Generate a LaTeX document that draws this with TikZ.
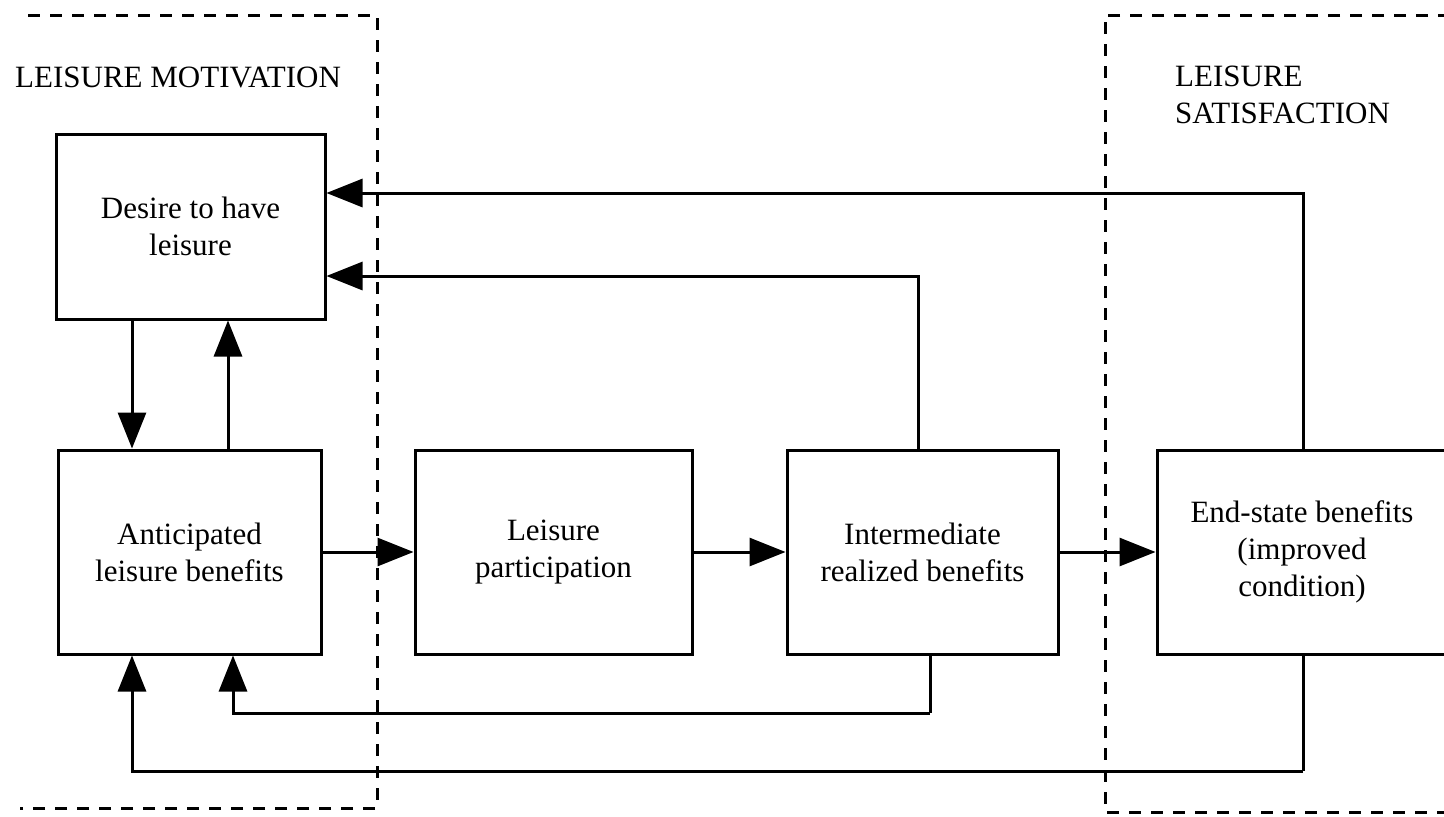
\documentclass[tikz,border=0pt]{standalone}
\usepackage{fontspec}
\setmainfont{Liberation Serif}
\usetikzlibrary{arrows.meta}
\begin{document}
\begin{tikzpicture}[x=1pt,y=-1pt,
  box/.style={draw,line width=3pt,align=center,inner sep=0pt,
    font=\fontsize{31}{37}\selectfont},
  arr/.style={line width=3pt,-{Triangle[length=36pt,width=28pt]}},
  conn/.style={line width=3pt},
  zone/.style={line width=3pt,dash pattern=on 12pt off 10pt},
  title/.style={anchor=base west,inner sep=0pt,align=left,
    font=\fontsize{31}{37}\selectfont}]
\useasboundingbox (0,0) rectangle (1444,817);

% zone outlines
\draw[zone] (28,15) -- (377,15) -- (377,808) -- (20,808);
\draw[zone] (1450,15) -- (1105,15) -- (1105,812) -- (1450,812);

\node[title] (motiv) at (15,87) {LEISURE MOTIVATION};
\node[title] (satis) at (1175,123) {LEISURE\\SATISFACTION};

% boxes
\node[box,minimum width=269pt,minimum height=185pt] (desire) at (190.5,226.5) {Desire to have\\leisure};
\node[box,minimum width=263pt,minimum height=204pt] (antic) at (189.5,552) {Anticipated\\leisure benefits};
\node[box,minimum width=277pt,minimum height=204pt] (part) at (553.5,552) {Leisure\\participation};
\node[box,minimum width=271pt,minimum height=204pt] (inter) at (922.5,552) {Intermediate\\realized benefits};
\node[box,minimum width=290pt,minimum height=204pt] (end) at (1302,552) {End-state benefits\\(improved\\condition)};

% bend points of the feedback loops
\coordinate (innerbend) at (930,713);
\coordinate (outerbend) at (1303,771);

% main chain
\draw[arr] (antic.east) -- (part.west);
\draw[arr] (part.east) -- (inter.west);
\draw[arr] (inter.east) -- (end.west);

% desire <-> anticipated benefits
\draw[arr] (desire.south -| 132,0) -- (antic.north -| 132,0);
\draw[arr] (antic.north -| 228,0) -- (desire.south -| 228,0);

% feedback to desire
\draw[arr] (inter.north -| 918,0) |- (desire.east |- 0,276);
\draw[arr] (end.north -| 1303,0) |- (desire.east |- 0,193);

% feedback to anticipated benefits
\draw[conn] (inter.south -| innerbend) -- (innerbend);
\draw[arr] (innerbend) -| (antic.south -| 233,0);
\draw[conn] (end.south -| outerbend) -- (outerbend);
\draw[arr] (outerbend) -| (antic.south -| 132,0);
\end{tikzpicture}
\end{document}
